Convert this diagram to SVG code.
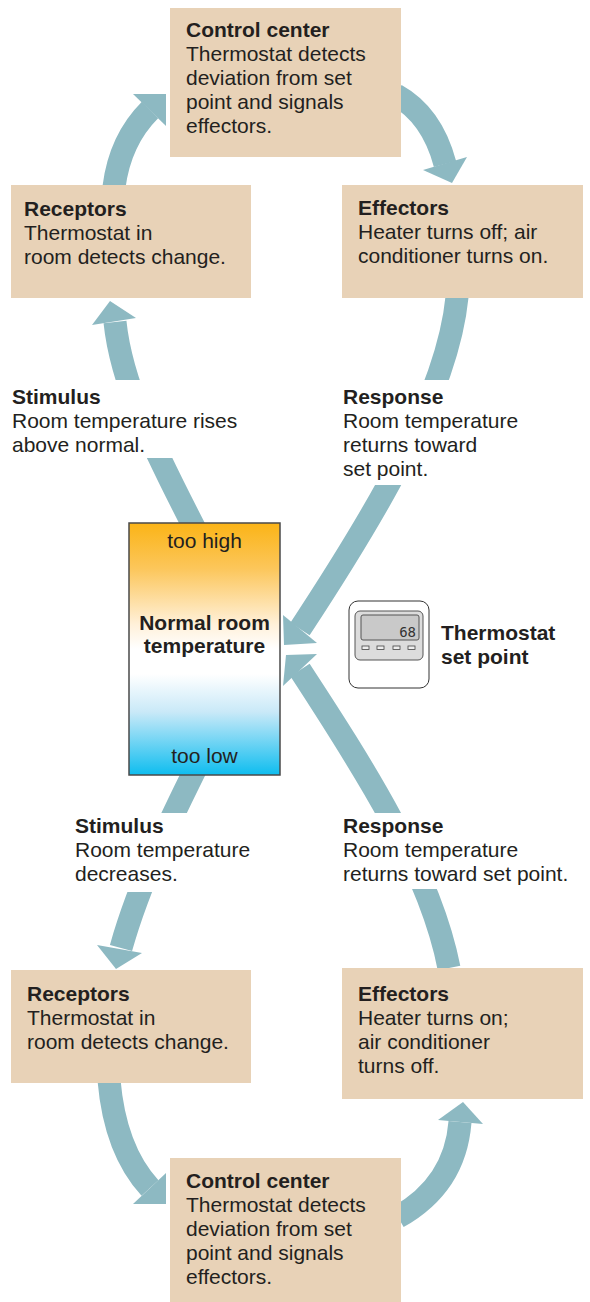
<svg xmlns="http://www.w3.org/2000/svg" width="590" height="1302" viewBox="0 0 590 1302">
  <style>
    .box { fill: #e8d2b7; }
    .shaft { fill: none; stroke: #8db9c2; stroke-width: 23; stroke-linecap: butt; }
    .head { fill: #8db9c2; }
    text { font-family: "Liberation Sans", Arial, sans-serif; font-size: 21px; fill: #231f20; }
    .b { font-weight: bold; }
    .c { text-anchor: middle; }
  </style>
  <defs>
    <linearGradient id="tempGrad" x1="0" y1="0" x2="0" y2="1">
      <stop offset="0" stop-color="#fbb417"/>
      <stop offset="0.18" stop-color="#fcc65a"/>
      <stop offset="0.4" stop-color="#fff0d8"/>
      <stop offset="0.5" stop-color="#ffffff"/>
      <stop offset="0.6" stop-color="#ffffff"/>
      <stop offset="0.75" stop-color="#c9e9f8"/>
      <stop offset="1" stop-color="#0ebdef"/>
    </linearGradient>
    <!-- gaps in the arrow bands where the labels sit -->
    <mask id="labelGaps" maskUnits="userSpaceOnUse" x="0" y="0" width="590" height="1302">
      <rect x="0" y="0" width="590" height="1302" fill="#fff"/>
      <rect x="80" y="380" width="140" height="78" fill="#000"/>
      <rect x="360" y="380" width="120" height="105" fill="#000"/>
      <rect x="100" y="813" width="130" height="79" fill="#000"/>
      <rect x="360" y="813" width="120" height="76" fill="#000"/>
    </mask>
  </defs>

  <rect width="590" height="1302" fill="#ffffff"/>

  <g id="connectors" mask="url(#labelGaps)">
    <!-- upper loop -->
    <path class="shaft" d="M114,187 Q120,140 150,110"/>
    <polygon class="head" points="133,94 166,94 166,126"/>
    <path class="shaft" d="M396,95 Q432,115 445,164"/>
    <polygon class="head" points="423,170 467,157 452,183"/>
    <path class="shaft" d="M457,297 C447,400 365,530 300,629"/>
    <polygon class="head" points="283,615 317,643 284,645"/>
    <path class="shaft" d="M198,535 C160,460 122,390 115,322"/>
    <polygon class="head" points="92,325 110,301 136,318"/>
    <!-- lower loop -->
    <path class="shaft" d="M200,760 C175,810 140,880 121,948"/>
    <polygon class="head" points="97,945 142,953 116,969"/>
    <path class="shaft" d="M109,1080 Q115,1150 150,1188"/>
    <polygon class="head" points="133,1204 166,1173 166,1204"/>
    <path class="shaft" d="M398,1217 Q455,1185 460,1122"/>
    <polygon class="head" points="438,1120 463,1102 483,1124"/>
    <path class="shaft" d="M449,968 C430,870 362,765 300,670"/>
    <polygon class="head" points="286,655 317,654 283,686"/>
  </g>

  <g id="control-top">
    <rect class="box" x="170" y="8" width="231" height="149"/>
    <text x="186" y="37" class="b">Control center</text>
    <text x="186" y="61">Thermostat detects</text>
    <text x="186" y="85">deviation from set</text>
    <text x="186" y="109">point and signals</text>
    <text x="186" y="133">effectors.</text>
  </g>

  <g id="receptors-top">
    <rect class="box" x="11" y="185" width="240" height="113"/>
    <text x="24" y="216" class="b">Receptors</text>
    <text x="24" y="240">Thermostat in</text>
    <text x="24" y="264">room detects change.</text>
  </g>

  <g id="effectors-top">
    <rect class="box" x="342" y="185" width="241" height="113"/>
    <text x="358" y="215" class="b">Effectors</text>
    <text x="358" y="239">Heater turns off; air</text>
    <text x="358" y="263">conditioner turns on.</text>
  </g>

  <g id="stimulus-top">
    <text x="12" y="404" class="b">Stimulus</text>
    <text x="12" y="428">Room temperature rises</text>
    <text x="12" y="452">above normal.</text>
  </g>

  <g id="response-top">
    <text x="343" y="404" class="b">Response</text>
    <text x="343" y="428">Room temperature</text>
    <text x="343" y="452">returns toward</text>
    <text x="343" y="476">set point.</text>
  </g>

  <g id="room-temperature">
    <rect x="129" y="523" width="151" height="252" fill="url(#tempGrad)" stroke="#4a4a4a" stroke-width="1.5"/>
    <text x="204.5" y="548" class="c">too high</text>
    <text x="204.5" y="630" class="c b">Normal room</text>
    <text x="204.5" y="653" class="c b">temperature</text>
    <text x="204.5" y="763" class="c">too low</text>
  </g>

  <g id="thermostat">
    <rect x="349" y="601" width="80" height="87" rx="9" fill="#ffffff" stroke="#333" stroke-width="1"/>
    <rect x="355" y="611" width="68" height="49" rx="5" fill="#dcdcdc" stroke="#555" stroke-width="1"/>
    <rect x="361" y="615" width="58" height="25" rx="2" fill="#c9c9c9" stroke="#555" stroke-width="1"/>
    <text x="416" y="637" style="font-family: 'DejaVu Sans Mono', monospace; font-size: 14px; fill: #333; text-anchor: end;">68</text>
    <rect x="362" y="646" width="7" height="3.5" fill="#eee" stroke="#444" stroke-width="0.8"/>
    <rect x="377" y="646" width="7" height="3.5" fill="#eee" stroke="#444" stroke-width="0.8"/>
    <rect x="393" y="646" width="7" height="3.5" fill="#eee" stroke="#444" stroke-width="0.8"/>
    <rect x="408" y="646" width="7" height="3.5" fill="#eee" stroke="#444" stroke-width="0.8"/>
    <text x="441" y="640" class="b">Thermostat</text>
    <text x="441" y="664" class="b">set point</text>
  </g>

  <g id="stimulus-bottom">
    <text x="75" y="833" class="b">Stimulus</text>
    <text x="75" y="857">Room temperature</text>
    <text x="75" y="881">decreases.</text>
  </g>

  <g id="response-bottom">
    <text x="343" y="833" class="b">Response</text>
    <text x="343" y="857">Room temperature</text>
    <text x="343" y="881">returns toward set point.</text>
  </g>

  <g id="receptors-bottom">
    <rect class="box" x="11" y="970" width="240" height="113"/>
    <text x="27" y="1001" class="b">Receptors</text>
    <text x="27" y="1025">Thermostat in</text>
    <text x="27" y="1049">room detects change.</text>
  </g>

  <g id="effectors-bottom">
    <rect class="box" x="342" y="968" width="241" height="131"/>
    <text x="358" y="1001" class="b">Effectors</text>
    <text x="358" y="1025">Heater turns on;</text>
    <text x="358" y="1049">air conditioner</text>
    <text x="358" y="1073">turns off.</text>
  </g>

  <g id="control-bottom">
    <rect class="box" x="170" y="1158" width="231" height="144"/>
    <text x="186" y="1188" class="b">Control center</text>
    <text x="186" y="1212">Thermostat detects</text>
    <text x="186" y="1236">deviation from set</text>
    <text x="186" y="1260">point and signals</text>
    <text x="186" y="1284">effectors.</text>
  </g>
</svg>
